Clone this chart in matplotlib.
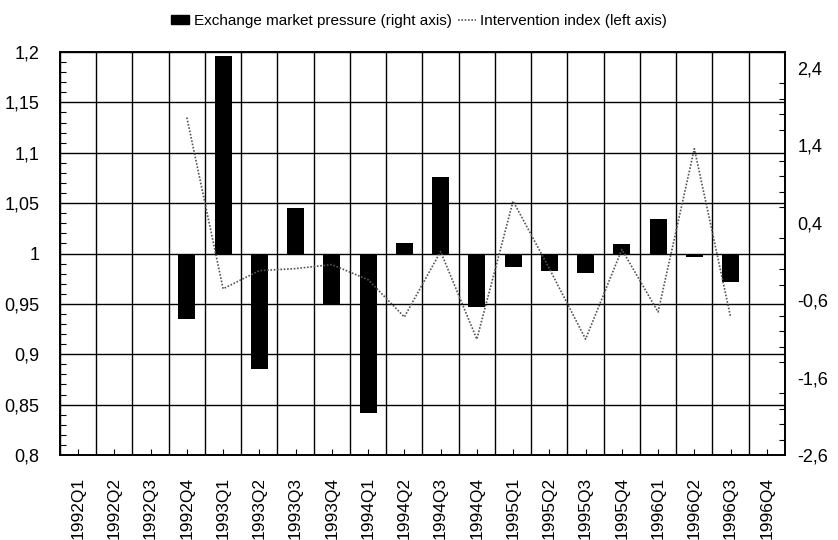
import matplotlib.pyplot as plt
from matplotlib.patches import Patch
from matplotlib.lines import Line2D
from matplotlib.ticker import MultipleLocator, FixedLocator
import numpy as np

plt.rcParams['font.family'] = ['Liberation Sans', 'DejaVu Sans']

# quarters on the x axis
quarters = ['1992Q1', '1992Q2', '1992Q3', '1992Q4',
            '1993Q1', '1993Q2', '1993Q3', '1993Q4',
            '1994Q1', '1994Q2', '1994Q3', '1994Q4',
            '1995Q1', '1995Q2', '1995Q3', '1995Q4',
            '1996Q1', '1996Q2', '1996Q3', '1996Q4']

# exchange market pressure (right axis), None = no bar
pressure = [None, None, None, -0.85,
            2.55, -1.49, 0.59, -0.66,
            -2.06, 0.13, 0.99, -0.69,
            -0.17, -0.22, -0.25, 0.12,
            0.45, -0.05, -0.37, None]

# intervention index (left axis), None = no point
intervention = [None, None, None, 1.135,
                0.965, 0.983, 0.985, 0.989,
                0.974, 0.937, 1.002, 0.915,
                1.052, 0.985, 0.915, 1.004,
                0.942, 1.104, 0.937, None]

left_ticks = [0.8, 0.85, 0.9, 0.95, 1.0, 1.05, 1.1, 1.15, 1.2]
left_labels = ['0,8', '0,85', '0,9', '0,95', '1', '1,05', '1,1', '1,15', '1,2']
right_ticks = [-2.6, -1.6, -0.6, 0.4, 1.4, 2.4]
right_labels = ['-2,6', '-1,6', '-0,6', '0,4', '1,4', '2,4']


def main():
	fig = plt.figure(figsize=(8.38, 5.40), dpi=100)
	ax = fig.add_axes([0.0716, 0.1574, 0.8651, 0.7463])
	ax2 = ax.twinx()

	x = np.arange(len(quarters))

	# bars on the right axis
	bx = [i for i, v in zip(x, pressure) if v is not None]
	bv = [v for v in pressure if v is not None]
	ax2.bar(bx, bv, width=0.47, color='black', zorder=2)
	ax2.set_ylim(-2.6, 2.6)
	ax2.yaxis.set_major_locator(FixedLocator(right_ticks))
	ax2.set_yticklabels(right_labels, fontsize=13)
	ax2.yaxis.set_minor_locator(MultipleLocator(0.2))
	ax2.tick_params(axis='y', which='both', direction='in', length=4, width=0.8, pad=9)
	ax2.tick_params(axis='y', which='major', length=0)

	# line on the left axis, drawn above the bars
	ax.set_zorder(ax2.get_zorder() + 1)
	ax.patch.set_visible(False)
	lx = [i for i, v in zip(x, intervention) if v is not None]
	lv = [v for v in intervention if v is not None]
	ax.plot(lx, lv, color='#555555', linestyle=(0, (1, 1)), linewidth=1.2)

	ax.set_xlim(-0.5, len(quarters) - 0.5)
	ax.set_ylim(0.8, 1.2)
	ax.yaxis.set_major_locator(FixedLocator(left_ticks))
	ax.set_yticklabels(left_labels, fontsize=13)
	ax.yaxis.set_minor_locator(MultipleLocator(0.01))
	ax.tick_params(axis='y', which='both', direction='in', length=4, width=0.8, pad=15)
	ax.tick_params(axis='y', which='major', length=0)

	ax.set_xticks(x)
	ax.set_xticklabels(quarters, rotation=90, fontsize=12.5)
	ax.tick_params(axis='x', direction='in', length=4, width=0.8, pad=16)
	ax.xaxis.set_minor_locator(FixedLocator(np.arange(-0.5, len(quarters), 1.0)))
	ax.tick_params(axis='x', which='minor', length=0)

	# grid: horizontal at every 0.05, vertical at quarter boundaries
	ax.grid(True, axis='y', which='major', color='black', linewidth=1.0)
	ax.grid(True, axis='x', which='minor', color='black', linewidth=1.0)
	ax.grid(False, axis='x', which='major')
	ax.grid(False, axis='y', which='minor')

	for a in (ax, ax2):
		for s in a.spines.values():
			s.set_linewidth(1.2)
			s.set_color('black')

	handles = [Patch(facecolor='black', edgecolor='black'),
	           Line2D([0], [0], color='#555555', linestyle=(0, (1, 1)), linewidth=1.2)]
	names = ['Exchange market pressure (right axis)', 'Intervention index (left axis)']
	fig.legend(handles, names, loc='upper center', bbox_to_anchor=(0.5, 1.0), ncol=2,
	           frameon=False, fontsize=11, handlelength=1.2, handletextpad=0.3,
	           columnspacing=0.4, handleheight=0.6)

	fig.savefig('out.png', dpi=100)


if __name__ == '__main__':
	main()
